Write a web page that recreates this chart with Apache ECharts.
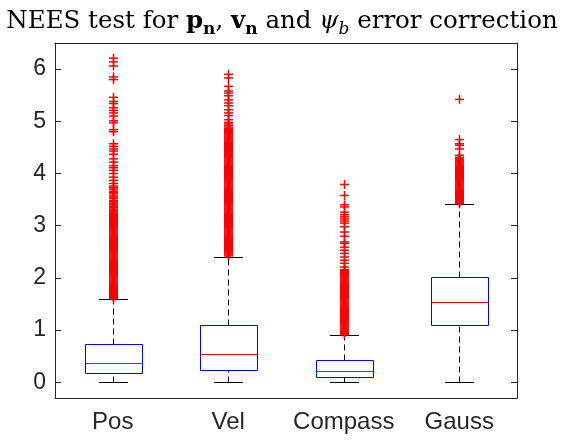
<!DOCTYPE html>
<html>
<head>
<meta charset="utf-8">
<script src="https://cdn.jsdelivr.net/npm/echarts@6/dist/echarts.min.js"></script>
<style>
  html, body { margin: 0; padding: 0; background: #fff; }
  #chart { width: 564px; height: 440px; }
</style>
</head>
<body>
<div id="chart"></div>
<script>
// Categories on the x axis
const categories = ['Pos', 'Vel', 'Compass', 'Gauss'];

// Box statistics per category: [lower whisker, Q1, median, Q3, upper whisker]
const lowerWhisker = [0, 0, 0, 0];
const quartile1 = [0.17, 0.235, 0.095, 1.10];
const medians = [0.375, 0.535, 0.21, 1.54];
const quartile3 = [0.74, 1.10, 0.42, 2.02];
const upperWhisker = [1.59, 2.40, 0.905, 3.41];

// Outliers beyond the upper whisker, per category
const posOutliers = [
  6.21, 6.14, 6.06, 5.85, 5.80, 5.46, 5.38, 5.34, 5.26, 5.21, 5.16, 5.10, 5.01, 4.97,
  4.84, 4.80, 4.57, 4.52, 4.47, 4.43, 4.37, 4.28, 4.22, 4.15, 4.11, 4.06, 4.00, 3.93,
  3.87, 3.81, 3.76, 3.73, 3.70, 3.66, 3.64, 3.61, 3.57, 3.55, 3.52, 3.48, 3.46, 3.43,
  3.40, 3.37, 3.35, 3.32, 3.30, 3.28, 3.26, 3.24, 3.22, 3.20, 3.18, 3.16, 3.14, 3.12,
  3.10, 3.08, 3.06, 3.04, 3.02, 3.00, 2.98, 2.96, 2.94, 2.92, 2.90, 2.88, 2.86, 2.84,
  2.82, 2.80, 2.78, 2.76, 2.74, 2.72, 2.70, 2.68, 2.66, 2.64, 2.62, 2.60, 2.58, 2.56,
  2.54, 2.52, 2.50, 2.48, 2.46, 2.44, 2.42, 2.40, 2.38, 2.36, 2.34, 2.32, 2.30, 2.28,
  2.26, 2.24, 2.22, 2.20, 2.18, 2.16, 2.14, 2.12, 2.10, 2.08, 2.06, 2.04, 2.02, 2.00,
  1.98, 1.96, 1.94, 1.92, 1.90, 1.88, 1.86, 1.84, 1.82, 1.80, 1.78, 1.76, 1.74, 1.72,
  1.70, 1.68, 1.66, 1.64, 1.62, 1.60
];
const velOutliers = [
  5.90, 5.83, 5.67, 5.58, 5.54, 5.49, 5.41, 5.35, 5.30, 5.22, 5.16, 5.11, 5.03, 4.98,
  4.95, 4.92, 4.89, 4.86, 4.84, 4.82, 4.80, 4.78, 4.76, 4.74, 4.72, 4.70, 4.68, 4.66,
  4.64, 4.62, 4.60, 4.58, 4.56, 4.54, 4.52, 4.50, 4.48, 4.46, 4.44, 4.42, 4.40, 4.38,
  4.36, 4.34, 4.32, 4.30, 4.28, 4.26, 4.24, 4.22, 4.20, 4.18, 4.16, 4.14, 4.12, 4.10,
  4.08, 4.06, 4.04, 4.02, 4.00, 3.98, 3.96, 3.94, 3.92, 3.90, 3.88, 3.86, 3.84, 3.82,
  3.80, 3.78, 3.76, 3.74, 3.72, 3.70, 3.68, 3.66, 3.64, 3.62, 3.60, 3.58, 3.56, 3.54,
  3.52, 3.50, 3.48, 3.46, 3.44, 3.42, 3.40, 3.38, 3.36, 3.34, 3.32, 3.30, 3.28, 3.26,
  3.24, 3.22, 3.20, 3.18, 3.16, 3.14, 3.12, 3.10, 3.08, 3.06, 3.04, 3.02, 3.00, 2.98,
  2.96, 2.94, 2.92, 2.90, 2.88, 2.86, 2.84, 2.82, 2.80, 2.78, 2.76, 2.74, 2.72, 2.70,
  2.68, 2.66, 2.64, 2.62, 2.60, 2.58, 2.56, 2.54, 2.52, 2.50, 2.48, 2.46, 2.44, 2.42
];
const compassOutliers = [
  3.79, 3.58, 3.40, 3.36, 3.26, 3.21, 3.17, 3.13, 3.09, 3.05, 2.98, 2.88, 2.80, 2.69,
  2.66, 2.59, 2.53, 2.47, 2.40, 2.34, 2.28, 2.21, 2.16, 2.14, 2.12, 2.10, 2.08, 2.06,
  2.04, 2.02, 2.00, 1.98, 1.96, 1.94, 1.92, 1.90, 1.88, 1.86, 1.84, 1.82, 1.80, 1.78,
  1.76, 1.74, 1.72, 1.70, 1.68, 1.66, 1.64, 1.62, 1.60, 1.58, 1.56, 1.54, 1.52, 1.50,
  1.48, 1.46, 1.44, 1.42, 1.40, 1.38, 1.36, 1.34, 1.32, 1.30, 1.28, 1.26, 1.24, 1.22,
  1.20, 1.18, 1.16, 1.14, 1.12, 1.10, 1.08, 1.06, 1.04, 1.02, 1.00, 0.98, 0.96, 0.94,
  0.92
];
const gaussOutliers = [
  5.42, 4.65, 4.57, 4.54, 4.47, 4.35, 4.31, 4.28, 4.26, 4.24, 4.22, 4.20, 4.18, 4.16,
  4.14, 4.12, 4.10, 4.08, 4.06, 4.04, 4.02, 4.00, 3.98, 3.96, 3.94, 3.92, 3.90, 3.88,
  3.86, 3.84, 3.82, 3.80, 3.78, 3.76, 3.74, 3.72, 3.70, 3.68, 3.66, 3.64, 3.62, 3.60,
  3.58, 3.56, 3.54, 3.52, 3.50, 3.48, 3.46, 3.44, 3.42
];

// Y axis range and tick labels
const yMin = -0.3;
const yMax = 6.5;
const yTicks = [0, 1, 2, 3, 4, 5, 6];

const AXIS = '#262626';

const boxData = categories.map((c, i) => [
  i, lowerWhisker[i], quartile1[i], medians[i], quartile3[i], upperWhisker[i]
]);

const outlierData = [];
[posOutliers, velOutliers, compassOutliers, gaussOutliers].forEach((arr, i) => {
  arr.forEach(v => outlierData.push([i, v]));
});

// Snap to pixel centres so 1px strokes stay sharp
const crisp = v => Math.round(v) + 0.5;

function renderBox(params, api) {
  const i = api.value(0);
  const lo = api.coord([i, api.value(1)]);
  const q1 = api.coord([i, api.value(2)]);
  const md = api.coord([i, api.value(3)]);
  const q3 = api.coord([i, api.value(4)]);
  const hi = api.coord([i, api.value(5)]);
  const band = api.size([1, 0])[0];
  const cx = crisp(lo[0]);
  const bw = band * 0.5;
  const cw = band * 0.25;
  const yl = crisp(lo[1]), y1 = crisp(q1[1]), ym = crisp(md[1]), y3 = crisp(q3[1]), yh = crisp(hi[1]);
  const x0 = crisp(cx - bw / 2), x1 = crisp(cx + bw / 2);
  const c0 = Math.round(cx - cw / 2), c1 = Math.round(cx + cw / 2);
  const dashed = { stroke: '#000', lineWidth: 1, lineDash: [6, 4], fill: null };
  const solid = c => ({ stroke: c, lineWidth: 1, fill: null });
  return {
    type: 'group',
    children: [
      { type: 'line', shape: { x1: cx, y1: y3, x2: cx, y2: yh }, style: dashed },
      { type: 'line', shape: { x1: cx, y1: yl, x2: cx, y2: y1 }, style: dashed },
      { type: 'line', shape: { x1: c0, y1: yh, x2: c1, y2: yh }, style: solid('#000') },
      { type: 'line', shape: { x1: c0, y1: yl, x2: c1, y2: yl }, style: solid('#000') },
      { type: 'rect', shape: { x: x0, y: y3, width: x1 - x0, height: y1 - y3 }, style: solid('#0000ff') },
      { type: 'line', shape: { x1: x0, y1: ym, x2: x1, y2: ym }, style: solid('#ff0000') }
    ]
  };
}

// Each outlier is drawn as a red "+" marker
function renderPlus(params, api) {
  const p = api.coord([api.value(0), api.value(1)]);
  const x = crisp(p[0]);
  const y = p[1];
  const h = 4.5;
  const st = { stroke: '#ff0000', lineWidth: 1.5, fill: null };
  return {
    type: 'group',
    children: [
      { type: 'line', shape: { x1: x - h, y1: y, x2: x + h, y2: y }, style: st },
      { type: 'line', shape: { x1: x, y1: y - h, x2: x, y2: y + h }, style: st }
    ]
  };
}

const chart = echarts.init(document.getElementById('chart'), null, { renderer: 'canvas' });

const serif = '"DejaVu Serif", "Liberation Serif", serif';
const sans = '"Liberation Sans", Arial, sans-serif';

chart.setOption({
  animation: false,
  backgroundColor: '#ffffff',
  title: {
    left: 'center',
    top: 1,
    text: '{n|NEES test for }{b|p}{bs|n}{n|, }{b|v}{bs|n}{n| and }{i|ψ}{is|b}{n| error correction}',
    textStyle: {
      fontWeight: 'normal',
      rich: {
        n: { fontFamily: serif, fontSize: 24.5, fontWeight: 'normal', color: '#000', lineHeight: 32, verticalAlign: 'middle' },
        b: { fontFamily: serif, fontSize: 24.5, fontWeight: 'bold', color: '#000', lineHeight: 32, verticalAlign: 'middle' },
        bs: { fontFamily: serif, fontSize: 17, fontWeight: 'bold', color: '#000', lineHeight: 18, verticalAlign: 'bottom' },
        i: { fontFamily: serif, fontSize: 24.5, fontStyle: 'italic', fontWeight: 'normal', color: '#000', lineHeight: 32, verticalAlign: 'middle' },
        is: { fontFamily: serif, fontSize: 17, fontStyle: 'italic', fontWeight: 'normal', color: '#000', lineHeight: 18, verticalAlign: 'bottom' }
      }
    }
  },
  grid: { left: 55, right: 47, top: 43, bottom: 42, containLabel: false },
  xAxis: [
    {
      type: 'category',
      data: categories,
      position: 'bottom',
      axisLine: { onZero: false, lineStyle: { color: AXIS, width: 1 } },
      axisTick: { inside: true, alignWithLabel: true, length: 6, lineStyle: { color: AXIS } },
      axisLabel: { interval: 0, color: AXIS, fontSize: 24, fontFamily: sans, margin: 12 },
      splitLine: { show: false }
    },
    {
      type: 'category',
      data: categories,
      position: 'top',
      axisLine: { onZero: false, lineStyle: { color: AXIS, width: 1 } },
      axisTick: { inside: true, alignWithLabel: true, length: 6, lineStyle: { color: AXIS } },
      axisLabel: { show: false },
      splitLine: { show: false }
    }
  ],
  yAxis: [
    {
      type: 'value',
      min: yMin,
      max: yMax,
      position: 'left',
      axisLine: { show: true, onZero: false, lineStyle: { color: AXIS, width: 1 } },
      axisTick: { show: true, inside: true, length: 6, customValues: yTicks, lineStyle: { color: AXIS } },
      axisLabel: { color: AXIS, fontSize: 23, fontFamily: sans, margin: 9, customValues: yTicks },
      splitLine: { show: false }
    },
    {
      type: 'value',
      min: yMin,
      max: yMax,
      position: 'right',
      axisLine: { show: true, onZero: false, lineStyle: { color: AXIS, width: 1 } },
      axisTick: { show: true, inside: true, length: 6, customValues: yTicks, lineStyle: { color: AXIS } },
      axisLabel: { show: false },
      splitLine: { show: false }
    }
  ],
  series: [
    {
      type: 'custom',
      xAxisIndex: 0,
      yAxisIndex: 0,
      renderItem: renderBox,
      encode: { x: 0, y: [1, 2, 3, 4, 5] },
      data: boxData,
      z: 2
    },
    {
      type: 'custom',
      xAxisIndex: 0,
      yAxisIndex: 0,
      renderItem: renderPlus,
      encode: { x: 0, y: 1 },
      data: outlierData,
      z: 3,
      silent: true
    }
  ]
});
</script>
</body>
</html>
